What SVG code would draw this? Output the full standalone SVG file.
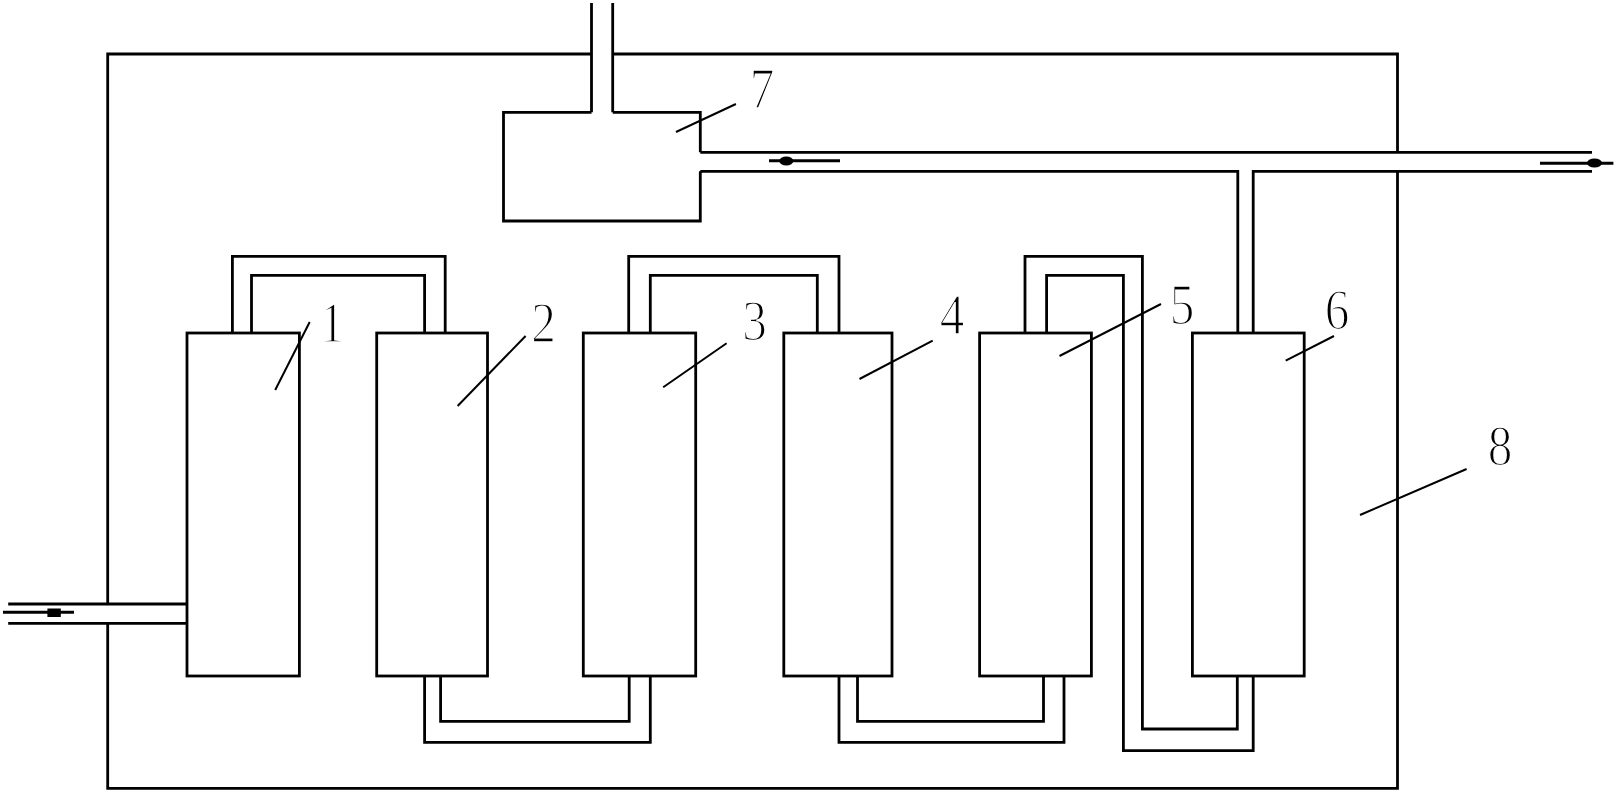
<svg xmlns="http://www.w3.org/2000/svg" width="1616" height="792" viewBox="0 0 1616 792">
<style>
.l{fill:none;stroke:#000;stroke-width:2.8}
.a{fill:none;stroke:#000;stroke-width:2}
.v{fill:none;stroke:#000;stroke-width:3}
.t{font-family:"Liberation Serif",serif;font-size:58px;text-anchor:middle;fill:#000;stroke:#fff;stroke-width:1.6}
</style>
<rect width="1616" height="792" fill="#fff"/>
<g id="enclosure-8">
<path class="l" d="M591.5 54H107.7V604M107.7 623.3V788.3H1397.5V171.3M1397.5 152.3V54H612.7"/>
<path class="a" d="M1466.6 469L1360 515"/>
<text class="t" transform="translate(1500 465) scale(.85 1)">8</text>
</g>
<g id="tank-7">
<path class="l" d="M591.5 112.3H503.5V221H700.3V171.3M700.3 152.3V112.3H612.7"/>
<path class="a" d="M735.9 104L676 132"/>
<text class="t" transform="translate(762 108) scale(.85 1)">7</text>
</g>
<g id="tank-1">
<rect class="l" x="187" y="333" width="112.4" height="343"/>
<path class="a" d="M309.7 322L275.2 390"/>
<text class="t" transform="translate(332 342) scale(.85 1)">1</text>
</g>
<g id="tank-2">
<rect class="l" x="376.7" y="333" width="110.8" height="343"/>
<path class="a" d="M525.6 336L457.6 406"/>
<text class="t" transform="translate(543.5 342) scale(.85 1)">2</text>
</g>
<g id="tank-3">
<rect class="l" x="583.3" y="333" width="112.4" height="343"/>
<path class="a" d="M726.6 343.3L663.2 387.3"/>
<text class="t" transform="translate(754.5 340) scale(.85 1)">3</text>
</g>
<g id="tank-4">
<rect class="l" x="783.8" y="333" width="108.2" height="343"/>
<path class="a" d="M932.7 340.7L859.5 379"/>
<text class="t" transform="translate(952 334) scale(.85 1)">4</text>
</g>
<g id="tank-5">
<rect class="l" x="979.6" y="333" width="111.8" height="343"/>
<path class="a" d="M1161 304L1059.5 356"/>
<text class="t" transform="translate(1182 324) scale(.85 1)">5</text>
</g>
<g id="tank-6">
<rect class="l" x="1192.4" y="333" width="111.8" height="343"/>
<path class="a" d="M1334 336L1285.7 360.7"/>
<text class="t" transform="translate(1337 329) scale(.85 1)">6</text>
</g>
<g id="connectors">
<path class="l" d="M591.5 3V112.3M612.7 3V112.3"/>
<path class="l" d="M700.3 152.3H1592M700.3 171.3H1237.8V333M1592 171.3H1253.2V333"/>
<path class="l" d="M8.2 604H187M8.2 623.3H187"/>
<path class="l" d="M232.4 333V256.3H445.2V333M251.5 333V275.3H424.6V333"/>
<path class="l" d="M628.7 333V256.3H839V333M650.3 333V275.3H817.3V333"/>
<path class="l" d="M1025 333V256.3H1142.4V729H1237.3V676M1046.6 333V275.3H1123.4V750.7H1253.2V676"/>
<path class="l" d="M424.6 676V742.3H650.3V676M440.6 676V721.3H629.2V676"/>
<path class="l" d="M839 676V742.3H1064V676M857.5 676V721.3H1043.5V676"/>
<g id="valve-inlet"><path class="v" d="M3 612.3H74"/><rect x="47.4" y="608.5" width="13.4" height="8.5"/></g>
<g id="valve-tank-7"><path class="v" d="M769 160.7H840"/><ellipse cx="786.3" cy="161" rx="7" ry="4.5"/></g>
<g id="valve-outlet"><path class="v" d="M1540 163.3H1613.4"/><ellipse cx="1594.5" cy="163" rx="7.5" ry="4.5"/></g>
</g>
</svg>
